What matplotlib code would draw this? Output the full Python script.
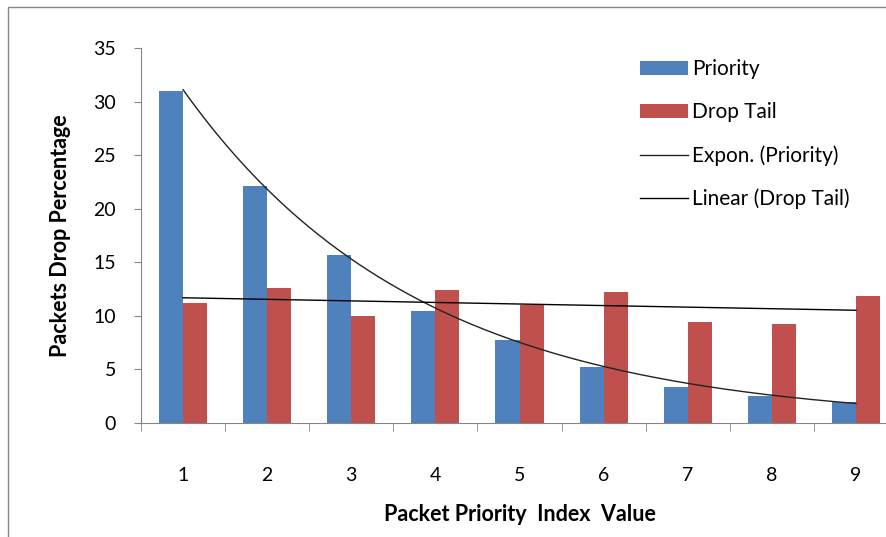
import numpy as np
import matplotlib.pyplot as plt
from matplotlib.patches import Rectangle

plt.rcParams['font.family'] = ['Lato', 'DejaVu Sans']

categories = [1, 2, 3, 4, 5, 6, 7, 8, 9]
priority = [31.0, 22.1, 15.7, 10.45, 7.75, 5.25, 3.4, 2.55, 1.95]
drop_tail = [11.2, 12.6, 10.0, 12.4, 11.0, 12.2, 9.45, 9.25, 11.85]

blue = '#4f81bd'
red = '#c0504d'

x = np.array(categories, dtype=float)

# trend lines like Excel: exponential on Priority, linear on Drop Tail
b, a = np.polyfit(x, np.log(priority), 1)
xs = np.linspace(1, 9, 200)
exp_fit = np.exp(a) * np.exp(b * xs)
m, c = np.polyfit(x, drop_tail, 1)
lin_fit = m * xs + c

fig = plt.figure(figsize=(8.86, 5.37), dpi=100)
ax = fig.add_axes([141 / 886, 1 - 423 / 537, (898 - 141) / 886, (423 - 48) / 537])

w = 0.286
ax.bar(x - w / 2, priority, w, color=blue, label='Priority', zorder=2)
ax.bar(x + w / 2, drop_tail, w, color=red, label='Drop Tail', zorder=2)
ax.plot(xs, exp_fit, color='#222222', lw=1.0, label='Expon. (Priority)', zorder=3)
ax.plot(xs, lin_fit, color='black', lw=1.0, label='Linear (Drop Tail)', zorder=3)

ax.set_xlim(0.5, 9.5)
ax.set_ylim(0, 35)
ax.set_yticks(range(0, 36, 5))
ax.set_xticks(categories)
ax.set_xticks(np.arange(0.5, 9.6, 1), minor=True)
ax.tick_params(axis='x', which='major', length=0, pad=32, labelsize=14)
ax.tick_params(axis='x', which='minor', length=6, color='#868686', direction='out')
ax.tick_params(axis='y', length=5, color='#868686', labelsize=14, pad=13)

for s in ['top', 'right']:
    ax.spines[s].set_visible(False)
for s in ['left', 'bottom']:
    ax.spines[s].set_color('#868686')

ax.set_xlabel('Packet Priority  Index  Value', fontsize=15.5, fontweight='bold', labelpad=14)
ax.set_ylabel('Packets Drop Percentage', fontsize=15.5, fontweight='bold', labelpad=16)

handles, labels = ax.get_legend_handles_labels()
order = [labels.index(l) for l in ['Priority', 'Drop Tail', 'Expon. (Priority)', 'Linear (Drop Tail)']]
leg = ax.legend([handles[i] for i in order], [labels[i] for i in order],
                loc='upper left', bbox_to_anchor=(0.659, 0.97), frameon=False,
                fontsize=15, handlelength=2.3, handleheight=0.65, handletextpad=0.2,
                labelspacing=1.1, borderpad=0, borderaxespad=0)

fig.patches.append(Rectangle((8 / 886, -0.05), 1.1, 1 - 7 / 537 + 0.05,
                             transform=fig.transFigure, fill=False,
                             edgecolor='#868686', lw=1.0))

fig.savefig('out.png', dpi=100)
